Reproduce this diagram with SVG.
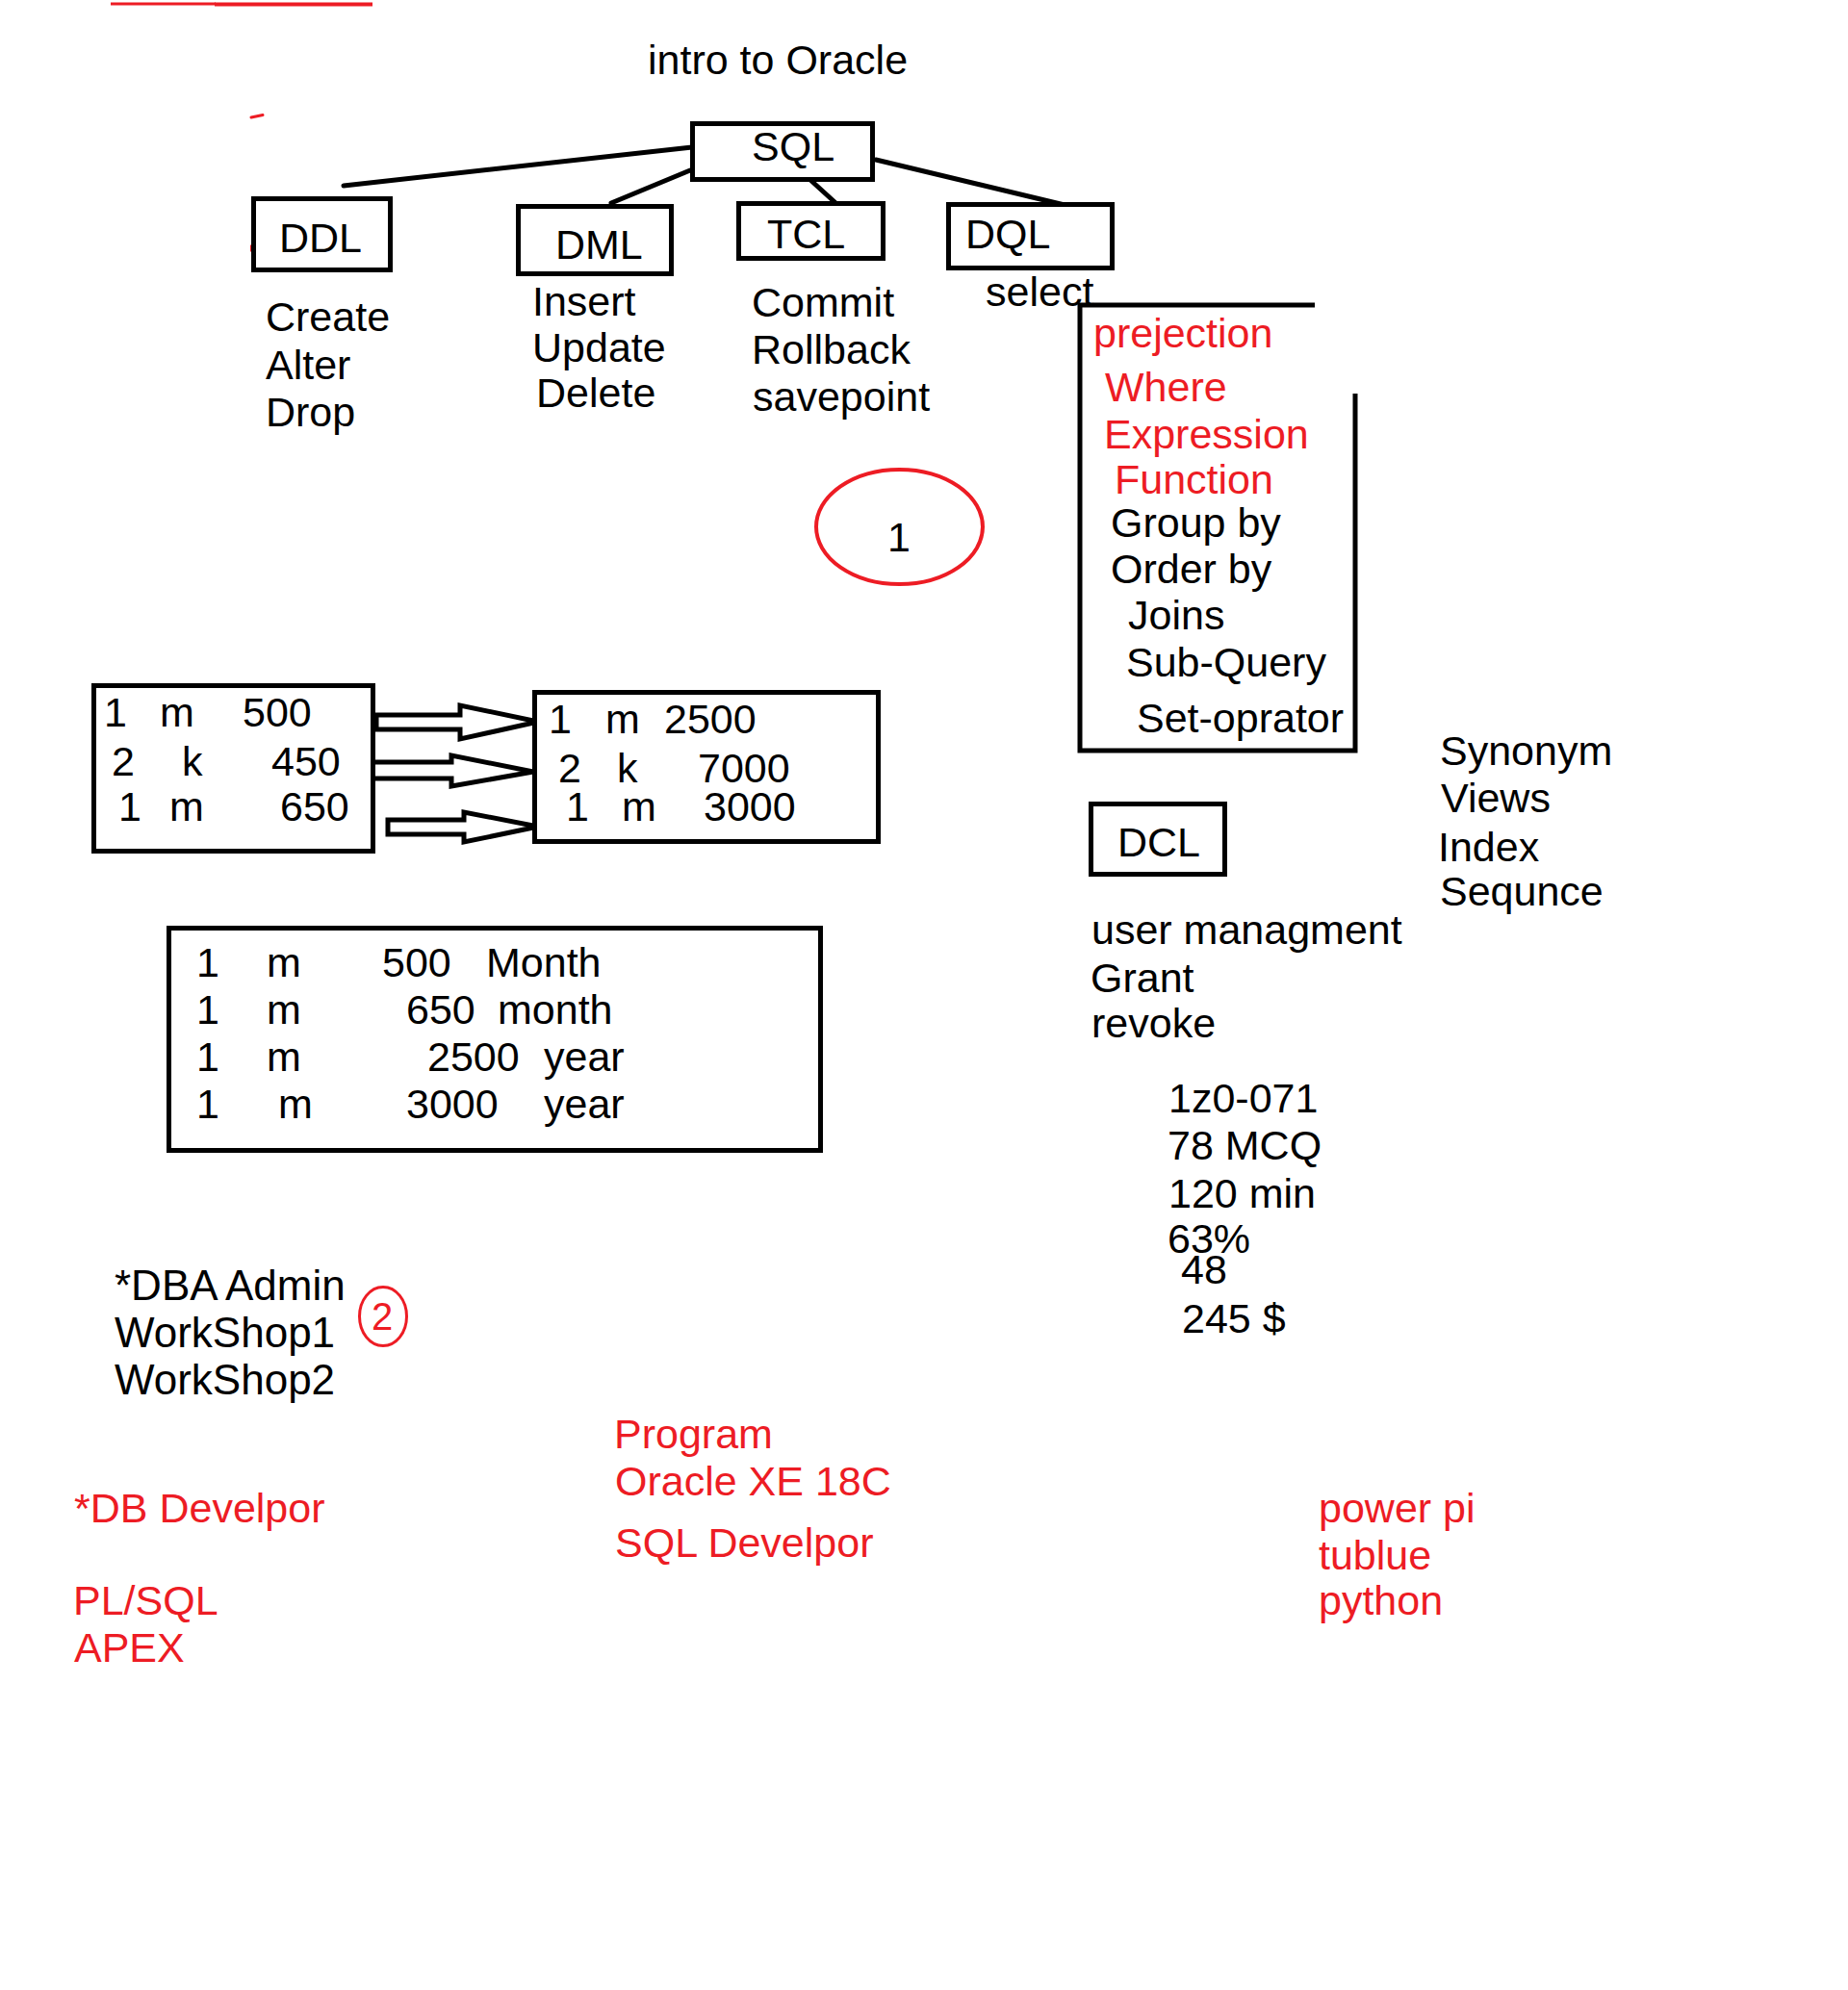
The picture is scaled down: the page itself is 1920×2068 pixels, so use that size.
<svg xmlns="http://www.w3.org/2000/svg" width="1920" height="2068" viewBox="0 0 1920 2068">
<style>
text{font-family:"Liberation Sans",Arial,sans-serif;font-size:43px;fill:#000}
.r{fill:#ED1C24}
.box{fill:#fff;stroke:#000;stroke-width:5}
.ln{fill:none;stroke:#000;stroke-width:5;stroke-linecap:round}
.arr{fill:#fff;stroke:#000;stroke-width:5;stroke-linejoin:miter}
.rc{fill:none;stroke:#ED1C24;stroke-width:4}
</style>
<rect width="1920" height="2068" fill="#fff"/>
<g id="marks">
<line x1="115" y1="4" x2="224" y2="4" stroke="#ED1C24" stroke-width="3"/>
<line x1="223" y1="4.5" x2="387" y2="4.5" stroke="#ED1C24" stroke-width="4"/>
<line x1="261" y1="122" x2="273" y2="119.5" stroke="#ED1C24" stroke-width="3" stroke-linecap="round"/>
<polygon points="260,254 264,258 260,262" fill="#ED1C24"/>
</g>
<g id="title"><text x="673" y="77">intro to Oracle</text></g>
<g id="connectors">
<line class="ln" x1="357" y1="193" x2="719" y2="153"/>
<line class="ln" x1="635" y1="211" x2="717" y2="177"/>
<line class="ln" x1="831" y1="177" x2="876" y2="218"/>
<line class="ln" x1="910" y1="166" x2="1106" y2="213"/>
<polygon class="arr" points="391,743 478,743 478,733 559,750 478,768 478,758 391,758"/>
<polygon class="arr" points="385,792 469,792 469,785 554,802 469,817 469,809 385,809"/>
<polygon class="arr" points="403,852 482,852 482,844 559,859 482,875 482,867 403,867"/>
</g>
<g id="sql"><rect class="box" x="719.5" y="128.5" width="187" height="58"/><text x="781" y="167">SQL</text></g>
<g id="ddl"><rect class="box" x="263.5" y="206.5" width="142" height="74"/><text x="290" y="262">DDL</text>
<text x="276" y="344">Create</text><text x="276" y="394">Alter</text><text x="276" y="443">Drop</text></g>
<g id="dml"><rect class="box" x="538.5" y="214.5" width="159" height="70"/><text x="577" y="269">DML</text>
<text x="553" y="328">Insert</text><text x="553" y="376">Update</text><text x="557" y="423">Delete</text></g>
<g id="tcl"><rect class="box" x="767.5" y="211.5" width="150" height="57"/><text x="797" y="258">TCL</text>
<text x="781" y="329">Commit</text><text x="781" y="378">Rollback</text><text x="782" y="427">savepoint</text></g>
<g id="dql"><rect class="box" x="985.5" y="212.5" width="170" height="66"/><text x="1003" y="258">DQL</text>
<text x="1024" y="318">select</text></g>
<g id="select-list">
<path d="M1366,317 H1122 V780 H1408 V409" fill="none" stroke="#000" stroke-width="5"/>
<text class="r" x="1136" y="361">prejection</text>
<text class="r" x="1148" y="417">Where</text>
<text class="r" x="1147" y="466">Expression</text>
<text class="r" x="1158" y="513">Function</text>
<text x="1154" y="558">Group by</text>
<text x="1154" y="606">Order by</text>
<text x="1172" y="654">Joins</text>
<text x="1170" y="703">Sub-Query</text>
<text x="1181" y="761">Set-oprator</text>
</g>
<g id="objects">
<text x="1496" y="795">Synonym</text><text x="1497" y="844">Views</text><text x="1494" y="895">Index</text><text x="1496" y="941">Sequnce</text>
</g>
<g id="dcl"><rect class="box" x="1133.5" y="835.5" width="139" height="73"/><text x="1161" y="890">DCL</text>
<text x="1134" y="981">user managment</text><text x="1133" y="1031">Grant</text><text x="1134" y="1078">revoke</text></g>
<g id="exam">
<text x="1214" y="1156">1z0-071</text><text x="1213" y="1205">78 MCQ</text><text x="1214" y="1255">120 min</text>
<text x="1213" y="1302">63%</text><text x="1227" y="1334">48</text><text x="1228" y="1385">245 $</text>
</g>
<g id="mark1"><ellipse class="rc" cx="934.5" cy="547.5" rx="86.5" ry="59.5"/><text x="922" y="573">1</text></g>
<g id="table-left"><rect class="box" x="97.5" y="712.5" width="290" height="172"/>
<text y="755"><tspan x="108">1</tspan><tspan x="166">m</tspan><tspan x="252">500</tspan></text>
<text y="806"><tspan x="116">2</tspan><tspan x="189">k</tspan><tspan x="282">450</tspan></text>
<text y="853"><tspan x="123">1</tspan><tspan x="176">m</tspan><tspan x="291">650</tspan></text>
</g>
<g id="table-right"><rect class="box" x="555.5" y="719.5" width="357" height="155"/>
<text y="762"><tspan x="570">1</tspan><tspan x="629">m</tspan><tspan x="690">2500</tspan></text>
<text y="813"><tspan x="580">2</tspan><tspan x="641">k</tspan><tspan x="725">7000</tspan></text>
<text y="853"><tspan x="588">1</tspan><tspan x="646">m</tspan><tspan x="731">3000</tspan></text>
</g>
<g id="table-bottom"><rect class="box" x="175.5" y="964.5" width="677" height="231"/>
<text y="1015"><tspan x="204">1</tspan><tspan x="277">m</tspan><tspan x="397">500</tspan><tspan x="505">Month</tspan></text>
<text y="1064"><tspan x="204">1</tspan><tspan x="277">m</tspan><tspan x="422">650</tspan><tspan x="517">month</tspan></text>
<text y="1113"><tspan x="204">1</tspan><tspan x="277">m</tspan><tspan x="444">2500</tspan><tspan x="565">year</tspan></text>
<text y="1162"><tspan x="204">1</tspan><tspan x="289">m</tspan><tspan x="422">3000</tspan><tspan x="565">year</tspan></text>
</g>
<g id="dba">
<text x="119" y="1351" style="font-size:44px">*DBA Admin</text><text x="119" y="1400" style="font-size:44px">WorkShop1</text><text x="119" y="1449" style="font-size:44px">WorkShop2</text>
<ellipse cx="398" cy="1368" rx="24.5" ry="30.5" fill="none" stroke="#ED1C24" stroke-width="3"/>
<text class="r" x="386" y="1382" style="font-size:40px">2</text>
</g>
<g id="developer">
<text class="r" x="77" y="1582">*DB Develpor</text>
<text class="r" x="76" y="1678">PL/SQL</text><text class="r" x="77" y="1727">APEX</text>
</g>
<g id="program">
<text class="r" x="638" y="1505">Program</text><text class="r" x="639" y="1554">Oracle XE 18C</text><text class="r" x="639" y="1618">SQL Develpor</text>
</g>
<g id="tools">
<text class="r" x="1370" y="1582">power pi</text><text class="r" x="1370" y="1631">tublue</text><text class="r" x="1370" y="1678">python</text>
</g>
</svg>
